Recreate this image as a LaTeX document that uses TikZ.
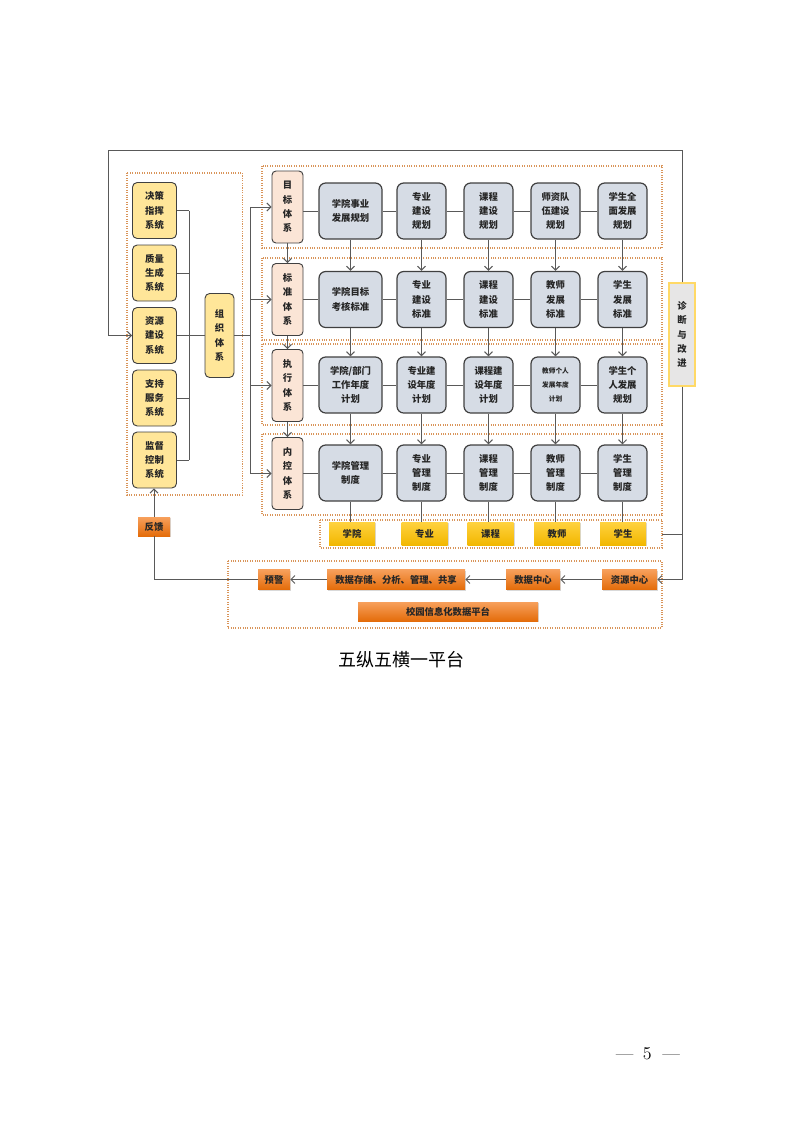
\documentclass[tikz,border=0pt]{standalone}
\usepackage{fontspec}
\newfontfamily\cjk{Noto Sans CJK SC}
\usetikzlibrary{arrows.meta,shadows}
\definecolor{sysyellow}{HTML}{FFE699}
\definecolor{peach}{HTML}{FBE5D6}
\definecolor{bluegray}{HTML}{D6DCE5}
\definecolor{edgec}{HTML}{404040}
\definecolor{wirec}{HTML}{595959}
\definecolor{dotc}{HTML}{D9955A}
\definecolor{goldtop}{HTML}{FFD23F}
\definecolor{goldbot}{HTML}{F2B700}
\definecolor{orgtop}{HTML}{F7A05C}
\definecolor{orgbot}{HTML}{E46C0A}
\definecolor{diagfill}{HTML}{E7E6E6}
\definecolor{diagedge}{HTML}{FFD966}
\tikzset{
  boxtext/.style={font=\cjk\bfseries\fontsize{7}{10.7}\selectfont, align=center, inner sep=0pt, text=black!85},
  sysbox/.style={boxtext, draw=edgec, line width=0.7pt, fill=sysyellow, rounded corners=3.5pt, minimum width=33pt, minimum height=42pt},
  orgbox/.style={sysbox, minimum width=21.75pt, minimum height=63pt},
  tixi/.style={boxtext, draw=edgec, line width=0.7pt, fill=peach, rounded corners=3pt, minimum width=23.25pt, minimum height=54pt},
  plan/.style={boxtext, draw=edgec, line width=0.9pt, fill=bluegray, rounded corners=5pt, minimum width=36.75pt, minimum height=42pt},
  wideplan/.style={plan, minimum width=47.25pt},
  goldbox/.style={boxtext, top color=goldtop, bottom color=goldbot, minimum width=34.5pt, minimum height=17.25pt, drop shadow={opacity=0.3, shadow xshift=0.8pt, shadow yshift=-0.8pt}},
  databox/.style={boxtext, top color=orgtop, bottom color=orgbot, minimum height=15pt, drop shadow={opacity=0.3, shadow xshift=0.8pt, shadow yshift=-0.8pt}},
  diagbox/.style={boxtext, draw=diagedge, line width=0.8pt, fill=diagfill, minimum width=19.5pt, minimum height=77.25pt},
  dotbox/.style={dotc, densely dotted, line width=0.8pt},
  wire/.style={wirec, line width=0.75pt},
  arr/.style={wire, -{Straight Barb[length=3pt,width=6pt]}},
}
\begin{document}
\begin{tikzpicture}[x=0.75pt,y=-0.75pt]
	\useasboundingbox (0,0) rectangle (793,1122);
	
	\draw[dotbox] (127,173) rectangle (242.5,495);
	\draw[dotbox] (262,166) rectangle (662,248);
	\draw[dotbox] (262,258) rectangle (662,340);
	\draw[dotbox] (262,344) rectangle (662,425);
	\draw[dotbox] (262,434) rectangle (662,515);
	\draw[dotbox] (320,520) rectangle (662,548);
	\draw[dotbox] (228,561) rectangle (662,628);
	
	\node[sysbox] (s1) at (154.5,210.5) {决策\\指挥\\系统};
	\node[sysbox] (s2) at (154.5,273) {质量\\生成\\系统};
	\node[sysbox] (s3) at (154.5,335.5) {资源\\建设\\系统};
	\node[sysbox] (s4) at (154.5,398) {支持\\服务\\系统};
	\node[sysbox] (s5) at (154.5,460) {监督\\控制\\系统};
	\node[orgbox] (org) at (219.5,335.5) {组\\织\\体\\系};
	
	\node[tixi] (t1) at (287.5,207) {目\\标\\体\\系};
	\node[tixi] (t2) at (287.5,299.5) {标\\准\\体\\系};
	\node[tixi] (t3) at (287.5,385.5) {执\\行\\体\\系};
	\node[tixi] (t4) at (287.5,473.5) {内\\控\\体\\系};
	
	\node[wideplan] (g11) at (350.5,211) {学院事业\\发展规划};
	\node[plan] (g12) at (421.5,211) {专业\\建设\\规划};
	\node[plan] (g13) at (488.5,211) {课程\\建设\\规划};
	\node[plan] (g14) at (555.5,211) {师资队\\伍建设\\规划};
	\node[plan] (g15) at (622.5,211) {学生全\\面发展\\规划};
	\node[wideplan] (g21) at (350.5,299.5) {学院目标\\考核标准};
	\node[plan] (g22) at (421.5,299.5) {专业\\建设\\标准};
	\node[plan] (g23) at (488.5,299.5) {课程\\建设\\标准};
	\node[plan] (g24) at (555.5,299.5) {教师\\发展\\标准};
	\node[plan] (g25) at (622.5,299.5) {学生\\发展\\标准};
	\node[wideplan] (g31) at (350.5,385) {学院/部门\\工作年度\\计划};
	\node[plan] (g32) at (421.5,385) {专业建\\设年度\\计划};
	\node[plan] (g33) at (488.5,385) {课程建\\设年度\\计划};
	\node[plan, font=\cjk\bfseries\fontsize{5}{10.7}\selectfont] (g34) at (555.5,385) {教师个人\\发展年度\\计划};
	\node[plan] (g35) at (622.5,385) {学生个\\人发展\\规划};
	\node[wideplan] (g41) at (350.5,473) {学院管理\\制度};
	\node[plan] (g42) at (421.5,473) {专业\\管理\\制度};
	\node[plan] (g43) at (488.5,473) {课程\\管理\\制度};
	\node[plan] (g44) at (555.5,473) {教师\\管理\\制度};
	\node[plan] (g45) at (622.5,473) {学生\\管理\\制度};
	
	\node[goldbox] (y1) at (352,533.5) {学院};
	\node[goldbox] (y2) at (424.5,533.5) {专业};
	\node[goldbox] (y3) at (490.5,533.5) {课程};
	\node[goldbox] (y4) at (557,533.5) {教师};
	\node[goldbox] (y5) at (623,533.5) {学生};
	
	\node[diagbox] (zd) at (682,334.5) {诊\\断\\与\\改\\进};
	
	\node[databox, minimum width=24pt, minimum height=14.25pt] (fk) at (154,526.5) {反馈};
	\node[databox, minimum width=24pt] (yj) at (274,579.5) {预警};
	\node[databox, minimum width=103.5pt] (cc) at (396,579.5) {数据存储、分析、管理、共享};
	\node[databox, minimum width=40.5pt] (dc) at (533,579.5) {数据中心};
	\node[databox, minimum width=41.25pt] (zc) at (629.5,579.5) {资源中心};
	\node[databox, minimum width=135pt, minimum height=14.25pt] (pt) at (448,611.5) {校园信息化数据平台};
	
	\coordinate (busl) at (189,335.5);
	\coordinate (busr) at (250,335.5);
	\coordinate (tl) at (108,150);
	\coordinate (r5e) at (662,534);
	
	\foreach \i in {1,...,5} \draw[wire] (s\i.east) -- (s\i.east -| busl);
	\draw[wire] (s1.east -| busl) -- (s5.east -| busl);
	\draw[wire] (busl) -- (org.west);
	\draw[wire] (org.east) -- (busr);
	\draw[wire] (busr |- t1) -- (busr |- t4);
	\foreach \i in {1,...,4} \draw[arr] (busr |- t\i) -- (t\i.west);
	\foreach \i/\j in {1/2,2/3,3/4} \draw[arr] (t\i.south) -- (t\j.north);
	
	\foreach \r in {1,...,4} {
		\draw[wire] (t\r.east |- g\r1.west) -- (g\r1.west);
		\foreach \c/\d in {1/2,2/3,3/4,4/5} \draw[wire] (g\r\c.east) -- (g\r\d.west);
	}
	\foreach \c in {1,...,5} {
		\draw[arr] (g1\c.south) -- (g2\c.north);
		\draw[arr] (g2\c.south) -- (g3\c.north);
		\draw[arr] (g3\c.south) -- (g4\c.north);
		\draw[wire] (g4\c.south) -- (g4\c.south |- y\c.north);
	}
	
	\draw[arr] (fk.north) -- (fk.north |- s5.south);
	\draw[wire] (fk.south) |- (yj.west);
	\draw[arr] (cc.west) -- (yj.east);
	\draw[arr] (dc.west) -- (cc.east);
	\draw[arr] (zc.west) -- (dc.east);
	\draw[wire] (r5e) -- (r5e -| zd);
	\draw[arr] (zd.south) |- (zc.east);
	\draw[arr] (zd.north) |- (tl) |- (s3.west);
	
	\node[font=\cjk\fontsize{13.5}{16}\selectfont] (cap) at (401,660) {五纵五横一平台};
	\node[font=\fontsize{13.5}{16}\selectfont] (pnum) at (648,1054) {---\hspace{7pt}5\hspace{8pt}---};
\end{tikzpicture}
\end{document}
